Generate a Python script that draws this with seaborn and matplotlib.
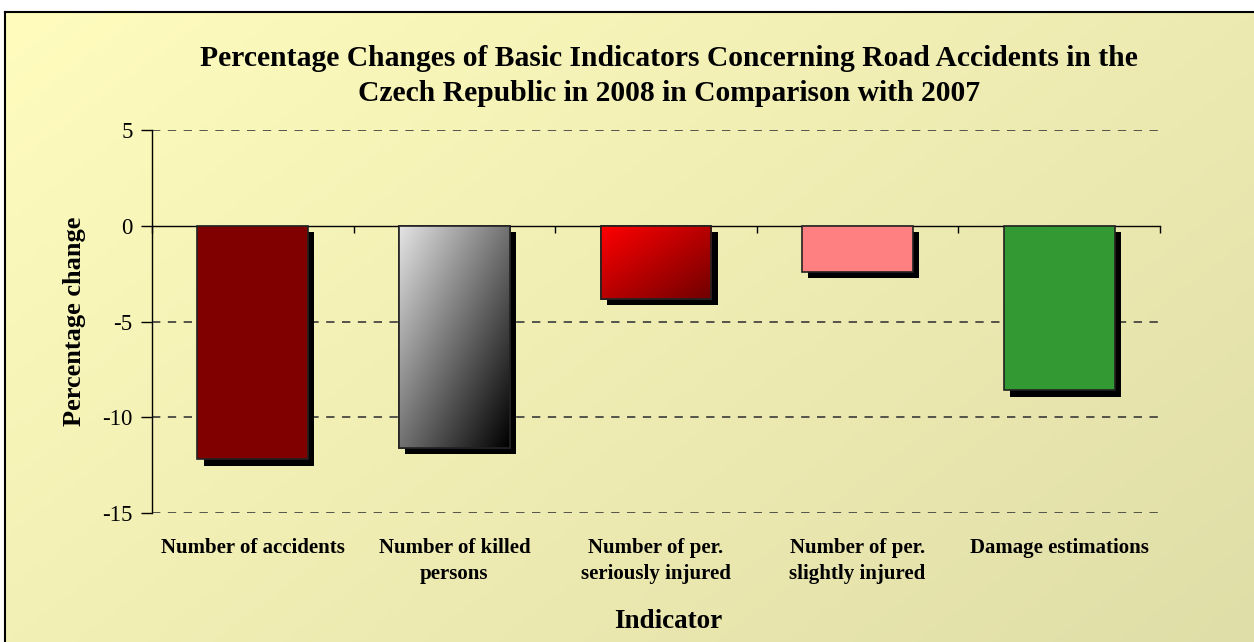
import numpy as np
import pandas as pd
import matplotlib
matplotlib.use("Agg")
import matplotlib.pyplot as plt
import matplotlib.patheffects as pe
from matplotlib.colors import LinearSegmentedColormap
from matplotlib.patches import Rectangle
import seaborn as sns

# Data
categories = ["Number of accidents", "Number of killed\npersons",
              "Number of per.\nseriously injured", "Number of per.\nslightly injured",
              "Damage estimations"]
changes = [-12.2, -11.6, -3.8, -2.4, -8.6]
yticks = [-15, -10, -5, 0, 5]

sns.set_theme(style="white")
plt.rcParams["font.family"] = ["Liberation Serif", "DejaVu Serif"]
plt.rcParams["text.color"] = "black"
plt.rcParams["axes.labelcolor"] = "black"
plt.rcParams["xtick.color"] = "black"
plt.rcParams["ytick.color"] = "black"

W, H, DPI = 1254, 642, 100
fig = plt.figure(figsize=(W / DPI, H / DPI), dpi=DPI)
fig.patch.set_facecolor("white")

# Chart area background: pale yellow diagonal gradient with a black frame
bg = fig.add_axes([5 / W, 0, 1 - 5 / W, 1 - 12 / H], zorder=0)
yy, xx = np.mgrid[0:1:200j, 0:1:400j]
t = (xx * 0.6 + yy * 0.4)
c0 = np.array([255, 252, 190]) / 255
c1 = np.array([224, 222, 168]) / 255
img = c0[None, None, :] * (1 - t[..., None]) + c1[None, None, :] * t[..., None]
bg.imshow(img, aspect="auto", extent=[0, 1, 1, 0])
bg.set_xlim(0, 1); bg.set_ylim(1, 0)
bg.set_xticks([]); bg.set_yticks([])
for name, s in bg.spines.items():
    s.set_color("black"); s.set_linewidth(1.5)
    if name in ("right", "bottom"):
        s.set_visible(False)

ax = fig.add_axes([152 / W, 1 - 513 / H, (1160 - 152) / W, (513 - 130) / H], zorder=1)
ax.patch.set_alpha(0)

df = pd.DataFrame({"Indicator": categories, "Change": changes})
sns.barplot(data=df, x="Indicator", y="Change", ax=ax, width=0.55,
            color="#800000", edgecolor="#222222", linewidth=1.2, zorder=3)

fills = ["#800000", None, None, "#ff8080", "#339933"]
gradients = {1: ("#e4e4e4", "#000000"), 2: ("#ff0000", "#700000")}
shadow = [pe.SimplePatchShadow(offset=(4.5, -4.5), shadow_rgbFace="black", alpha=1.0),
          pe.Normal()]
for i, bar in enumerate(ax.patches):
    bar.set_path_effects(shadow)
    if fills[i] is not None:
        bar.set_facecolor(fills[i])
    else:
        cmap = LinearSegmentedColormap.from_list("g%d" % i, gradients[i])
        gy, gx = np.mgrid[0:1:100j, 0:1:100j]
        g = (gx + gy) / 2
        x0, w = bar.get_x(), bar.get_width()
        y0, h = bar.get_y(), bar.get_height()
        im = ax.imshow(g, cmap=cmap, aspect="auto", zorder=3.5,
                       extent=[x0, x0 + w, y0 + h, y0], origin="upper",
                       interpolation="bilinear")
        im.set_clip_path(bar)
        edge = Rectangle((x0, y0), w, h, fill=False, edgecolor="#222222",
                         linewidth=1.2, zorder=3.6)
        ax.add_patch(edge)

ax.set_xlim(-0.5, len(categories) - 0.5)
ax.set_ylim(-15, 5)

# Dashed gridlines for non-zero ticks
for v in yticks:
    if v != 0:
        ax.axhline(v, color="#3a3a3a", linestyle=(0, (5, 4.5)), linewidth=1.2, zorder=1)

for s in ["top", "right"]:
    ax.spines[s].set_visible(False)
ax.spines["left"].set_color("black"); ax.spines["left"].set_linewidth(1.0)
ax.spines["bottom"].set_position(("data", 0))
ax.spines["bottom"].set_color("black"); ax.spines["bottom"].set_linewidth(1.0)
ax.spines["bottom"].set_zorder(2)

ax.set_yticks(yticks)
ax.set_yticklabels([str(v) for v in yticks], fontsize=16.5)
ax.tick_params(axis="y", direction="out", length=8, width=1, color="black",
               left=True, pad=6)
ax.set_xticks(np.arange(-0.5, len(categories), 1.0))
ax.set_xticklabels([])
ax.tick_params(axis="x", direction="out", length=5, width=1, color="black", bottom=True)
ax.set_xlabel(""); ax.set_ylabel("")

# Category labels below the plot
trans = ax.get_xaxis_transform()
for i, lab in enumerate(categories):
    ax.text(i, -0.064, lab, transform=trans, ha="center", va="top",
            fontsize=15, fontweight="bold", linespacing=1.45)

fig.text(668 / W, 1 - 621 / H, "Indicator", ha="center", va="center",
         fontsize=19.5, fontweight="bold")
fig.text(75 / W, 1 - 321 / H, "Percentage change", ha="center", va="center",
         rotation=90, fontsize=19, fontweight="bold")
fig.text(669 / W, 1 - 76 / H,
         "Percentage Changes of Basic Indicators Concerning Road Accidents in the\n"
         "Czech Republic in 2008 in Comparison with 2007",
         ha="center", va="center", fontsize=21.3, fontweight="bold", linespacing=1.4)

fig.savefig("out.png", dpi=DPI)
